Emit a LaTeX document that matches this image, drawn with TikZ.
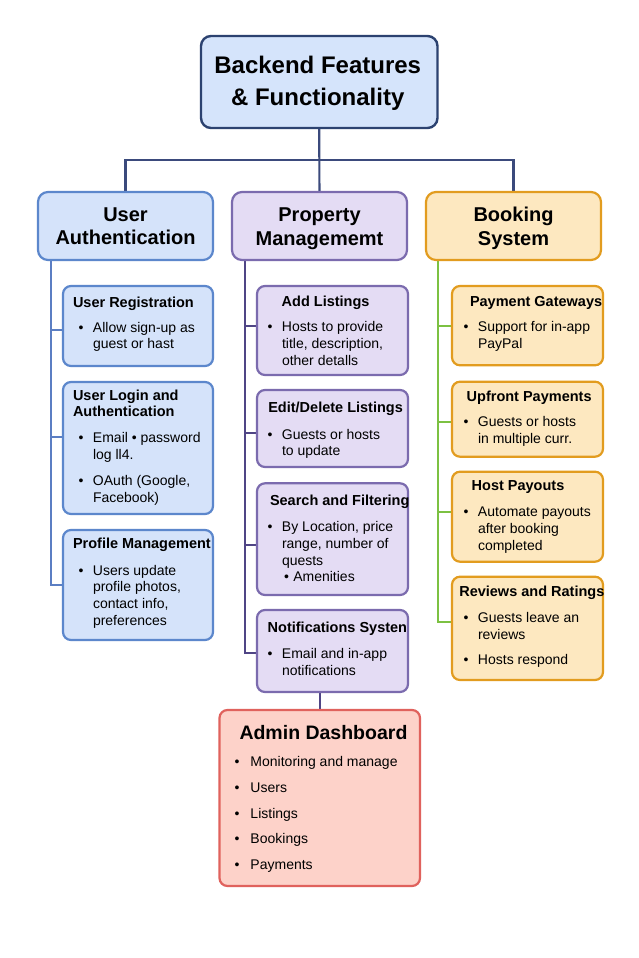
\documentclass[tikz,border=0pt]{standalone}
\usepackage{fontspec}
\setmainfont{Liberation Sans}
\usetikzlibrary{backgrounds}
\definecolor{titlefill}{HTML}{D5E4FB}
\definecolor{titledraw}{HTML}{2C4270}
\definecolor{topline}{HTML}{3B4A7C}
\definecolor{bluefill}{HTML}{D5E3FA}
\definecolor{bluedraw}{HTML}{5C87CC}
\definecolor{bluetrunk}{HTML}{5B7EC3}
\definecolor{purplefill}{HTML}{E4DCF4}
\definecolor{purpledraw}{HTML}{7B6BAE}
\definecolor{purpletrunk}{HTML}{4F4585}
\definecolor{orangefill}{HTML}{FDE8C0}
\definecolor{orangedraw}{HTML}{E29C1F}
\definecolor{greentrunk}{HTML}{7CC142}
\definecolor{redfill}{HTML}{FDD2C9}
\definecolor{reddraw}{HTML}{E0625D}
\newlength\tx
\newlength\bgap
\setlength\bgap{9.5pt}
\newcommand\TT[2]{\makebox[0pt][l]{\hspace*{#1}\bfseries\fontsize{14.5}{16.7}\selectfont #2}}
\newcommand\BI[1]{\makebox[0pt][l]{\hspace*{\tx}\llap{\textbullet\hspace{\bgap}}#1}}
\newcommand\BC[1]{\makebox[0pt][l]{\hspace*{\tx}#1}}
% width, height, text offset, first baseline, content
\newcommand\cbox[5]{\parbox[t][#2][t]{#1}{\fontsize{14}{16.7}\selectfont\setlength\tx{#3}\rule{0pt}{#4}#5}}
\newcommand\hbx[2]{\parbox[t][68pt][t]{175pt}{\centering\fontsize{20}{23.5}\selectfont\bfseries\rule{0pt}{#1}#2}}
\tikzset{
  boxbase/.style={inner sep=0pt, outer sep=0pt, line width=2.2pt, rounded corners=8pt, anchor=north west},
  headbase/.style={boxbase, rounded corners=10pt},
  titlebox/.style={headbase, fill=titlefill, draw=titledraw, line width=2.4pt},
  bluehead/.style={headbase, fill=bluefill, draw=bluedraw},
  purplehead/.style={headbase, fill=purplefill, draw=purpledraw},
  orangehead/.style={headbase, fill=orangefill, draw=orangedraw},
  bluebox/.style={boxbase, fill=bluefill, draw=bluedraw},
  purplebox/.style={boxbase, fill=purplefill, draw=purpledraw},
  orangebox/.style={boxbase, fill=orangefill, draw=orangedraw},
  redbox/.style={boxbase, fill=redfill, draw=reddraw},
  topconn/.style={draw=topline, line width=2.1pt},
  bconn/.style={draw=bluetrunk, line width=2.1pt},
  pconn/.style={draw=purpletrunk, line width=2.1pt},
  gconn/.style={draw=greentrunk, line width=2.1pt},
}
\begin{document}
\begin{tikzpicture}[x=1pt,y=1pt]
\useasboundingbox (0,0) rectangle (639,-958);

% title
\node[titlebox] (title) at (201,-36) {\parbox[t][92pt][t]{236.5pt}{\centering\fontsize{24}{32.3}\selectfont\bfseries\rule{0pt}{37.3pt}\hspace*{-3pt}Backend Features\\\hspace*{-3pt}\& Functionality}};

% headers
\node[bluehead] (uauth) at (38,-192) {\hbx{29pt}{User\\Authentication}};
\node[purplehead] (prop) at (232,-192) {\hbx{29.7pt}{Property\\Managememt}};
\node[orangehead] (book) at (426,-192) {\hbx{29.7pt}{Booking\\System}};

% left column
\node[bluebox] (ureg) at (63,-286) {\cbox{150pt}{80pt}{30pt}{21pt}{\TT{10pt}{User Registration}\\[8.3pt]\BI{Allow sign-up as}\\\BC{guest or hast}}};
\node[bluebox] (ulog) at (63,-382) {\cbox{150pt}{132pt}{30pt}{18pt}{\TT{10pt}{User Login and}\\\TT{10pt}{Authentication}\\[9.3pt]\BI{Email • password}\\\BC{log ll4.}\\[9.3pt]\BI{OAuth (Google,}\\\BC{Facebook)}}};
\node[bluebox] (uprof) at (63,-530) {\cbox{150pt}{110pt}{30pt}{18.3pt}{\TT{10pt}{Profile Management}\\[10pt]\BI{Users update}\\\BC{profile photos,}\\\BC{contact info,}\\\BC{preferences}}};

% middle column
\node[purplebox] (addl) at (257,-286) {\cbox{151pt}{89pt}{25pt}{20.7pt}{\TT{24.7pt}{Add Listings}\\[8.3pt]\BI{Hosts to provide}\\\BC{title, description,}\\\BC{other detalls}}};
\node[purplebox] (editl) at (257,-390) {\cbox{151pt}{77pt}{25pt}{22.7pt}{\TT{11.3pt}{Edit/Delete Listings}\\[9.6pt]\BI{Guests or hosts}\\\BC{to update}}};
\node[purplebox] (search) at (257,-483.3) {\cbox{151pt}{111.7pt}{25pt}{21.7pt}{\TT{13pt}{Search and Filtering}\\[10pt]\BI{By Location, price}\\\BC{range, number of}\\\BC{quests}\\\makebox[0pt][l]{\hspace*{36.3pt}\llap{\textbullet\hspace{4.2pt}}Amenities}}};
\node[purplebox] (notif) at (257,-610) {\cbox{151pt}{82pt}{25pt}{22.3pt}{\TT{10.7pt}{Notifications Systen}\\[9.3pt]\BI{Email and in-app}\\\BC{notifications}}};

% right column
\node[orangebox] (payg) at (452,-286) {\cbox{151pt}{79.3pt}{26pt}{20.7pt}{\TT{18pt}{Payment Gateways}\\[8.3pt]\BI{Support for in-app}\\\BC{PayPal}}};
\node[orangebox] (upfr) at (452,-381.7) {\cbox{151pt}{75pt}{26pt}{20pt}{\TT{14.7pt}{Upfront Payments}\\[8.3pt]\BI{Guests or hosts}\\\BC{in multiple curr.}}};
\node[orangebox] (hostp) at (452,-471.7) {\cbox{151pt}{90pt}{26pt}{19pt}{\TT{19.7pt}{Host Payouts}\\[9.3pt]\BI{Automate payouts}\\\BC{after booking}\\\BC{completed}}};
\node[orangebox] (revs) at (452,-576.7) {\cbox{151pt}{103.3pt}{26pt}{20pt}{\TT{7.3pt}{Reviews and Ratings}\\[8.9pt]\BI{Guests leave an}\\\BC{reviews}\\[8.6pt]\BI{Hosts respond}}};

% admin
\node[redbox] (admin) at (219.5,-710) {\parbox[t][176pt][t]{200.5pt}{\fontsize{14}{25.7}\selectfont\setlength\tx{31pt}\setlength\bgap{11pt}\rule{0pt}{29.3pt}\makebox[0pt][l]{\hspace*{20pt}\fontsize{19.5}{25.7}\selectfont\bfseries Admin Dashboard}\\[1.7pt]\BI{Monitoring and manage}\\\BI{Users}\\\BI{Listings}\\\BI{Bookings}\\\BI{Payments}}};

\begin{scope}[on background layer]
\fill[white] (0,0) rectangle (639,-958);
% top connectors
\coordinate (hub) at (319.3,-160);
\draw[topconn] (title.south) -- (hub);
\draw[topconn] (uauth.north) |- (hub) -| (book.north);
\draw[topconn] (hub) -- (prop.north);

% left trunk
\coordinate (lt) at ([xshift=12.7pt]uauth.south west);
\draw[bconn] (lt) |- (uprof.west);
\coordinate (lb1) at ([yshift=-4pt]ureg.west);
\coordinate (lb2) at ([yshift=11pt]ulog.west);
\draw[bconn] (lb1) -- (lb1 -| lt);
\draw[bconn] (lb2) -- (lb2 -| lt);

% middle trunk
\coordinate (mt) at ([xshift=13pt]prop.south west);
\coordinate (mb1) at ([yshift=4.5pt]addl.west);
\coordinate (mb2) at ([yshift=-4.5pt]editl.west);
\coordinate (mb3) at ([yshift=-6pt]search.west);
\coordinate (mb4) at ([yshift=-1.7pt]notif.west);
\draw[pconn] (mt) |- (mb4);
\draw[pconn] (mb1) -- (mb1 -| mt);
\draw[pconn] (mb2) -- (mb2 -| mt);
\draw[pconn] (mb3) -- (mb3 -| mt);
\draw[pconn] (admin.north) -- (admin.north |- notif.south);

% right trunk
\coordinate (rt) at ([xshift=12.3pt]book.south west);
\coordinate (rb1) at (payg.west);
\coordinate (rb2) at ([yshift=-2.5pt]upfr.west);
\coordinate (rb3) at ([yshift=4.4pt]hostp.west);
\coordinate (rb4) at ([yshift=6pt]revs.west);
\draw[gconn] (rt) |- (rb4);
\draw[gconn] (rb1) -- (rb1 -| rt);
\draw[gconn] (rb2) -- (rb2 -| rt);
\draw[gconn] (rb3) -- (rb3 -| rt);
\end{scope}
\end{tikzpicture}
\end{document}
